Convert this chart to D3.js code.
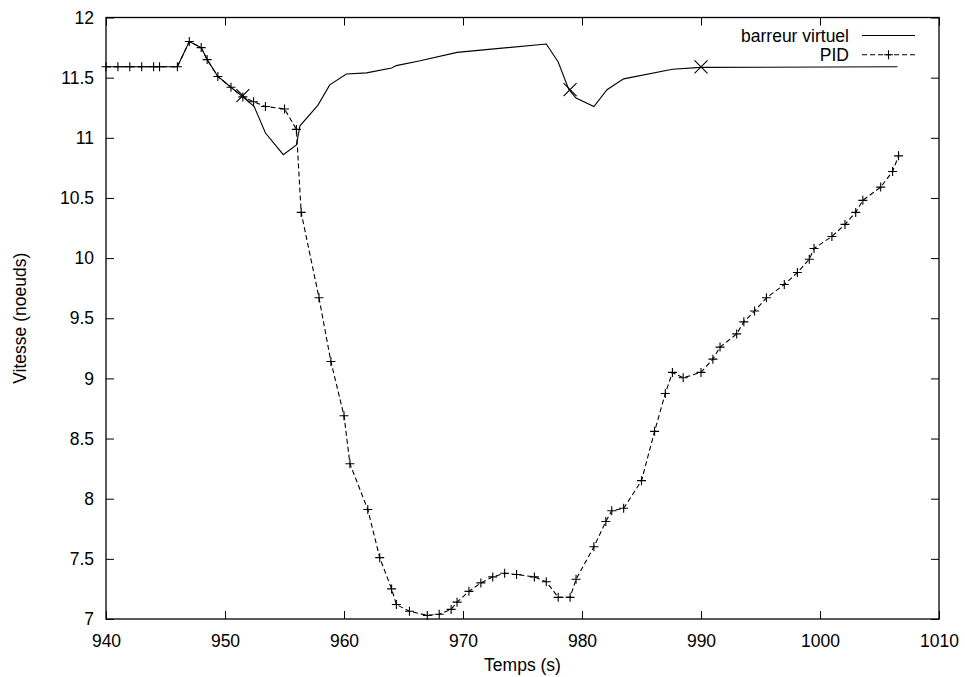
<!DOCTYPE html>
<meta charset="utf-8">
<script src="https://d3js.org/d3.v7.min.js"></script>
<style>
  body { margin: 0; background: #fff; }
  svg text { font-family: "Liberation Sans", Arial, sans-serif; font-size: 17.5px; fill: #000; }
</style>
<div id="my_dataviz"></div>
<script>
// barreur virtuel (solid line)
var bvTime = [940, 946, 947, 948, 948.5, 949.4, 950.5, 951.5, 952.45, 953.4, 954.9, 956.0, 956.3, 957.8, 958.8,
  960.2, 961.9, 964.0, 964.4, 966.4, 969.5, 977.0, 978.0, 978.9, 979.5, 981.0, 982.1, 983.5, 987.6, 990.0, 1006.5];
var bvSpeed = [11.59, 11.59, 11.80, 11.75, 11.65, 11.51, 11.42, 11.34, 11.26, 11.04, 10.86, 10.94, 11.10, 11.27, 11.44,
  11.53, 11.54, 11.58, 11.60, 11.64, 11.71, 11.78, 11.63, 11.40, 11.33, 11.26, 11.40, 11.49, 11.57, 11.585, 11.59];

// crosses on the solid line
var crossTime = [951.5, 979.0, 990.0];
var crossSpeed = [11.35, 11.40, 11.59];

// PID (dashed line with +)
var pidTime = [940, 941, 942, 943, 944, 944.5, 946,
  947, 948, 948.5, 949.4, 950.5, 951.5, 952.4, 953.4, 955.0, 956.0,
  956.4, 957.9, 958.9, 960.0, 960.5, 962.0, 963.0, 964.0, 964.4, 965.5,
  967, 968, 969, 969.5, 970.5, 971.5, 972.5, 973.5, 974.5, 976,
  977, 978, 979, 979.5, 981, 982, 982.5, 983.5, 985, 986.1,
  987, 987.6, 988.5, 990, 991, 991.6, 993, 993.6, 994.5, 995.5,
  997, 998.1, 999.1, 999.5, 1001, 1002.1, 1003, 1003.6, 1005.1, 1006.1, 1006.6];
var pidSpeed = [11.59, 11.59, 11.59, 11.59, 11.59, 11.59, 11.59,
  11.80, 11.75, 11.65, 11.51, 11.42, 11.34, 11.30, 11.26, 11.24, 11.07,
  10.38, 9.67, 9.14, 8.69, 8.29, 7.91, 7.51, 7.25, 7.12, 7.065,
  7.03, 7.04, 7.08, 7.14, 7.23, 7.30, 7.35, 7.38, 7.37, 7.35,
  7.31, 7.18, 7.18, 7.33, 7.60, 7.81, 7.90, 7.92, 8.15, 8.56,
  8.875, 9.05, 9.005, 9.05, 9.16, 9.26, 9.37, 9.47, 9.56, 9.67,
  9.78, 9.88, 9.99, 10.08, 10.18, 10.28, 10.38, 10.48, 10.59, 10.72, 10.85];

var xTicks = [940, 950, 960, 970, 980, 990, 1000, 1010];
var yTicks = [7, 7.5, 8, 8.5, 9, 9.5, 10, 10.5, 11, 11.5, 12];
var legendLabels = ["barreur virtuel", "PID"];

var margin = {top: 17.5, right: 26, bottom: 58, left: 106},
  width = 965 - margin.left - margin.right,
  height = 677 - margin.top - margin.bottom;

var svg = d3.select("#my_dataviz")
  .append("svg")
    .attr("width", 965)
    .attr("height", 677)
  .append("g")
    .attr("transform", "translate(" + margin.left + "," + margin.top + ")");

var x = d3.scaleLinear().domain([940, 1010]).range([0, width]);
var y = d3.scaleLinear().domain([7, 12]).range([height, 0]);

// axes, ticks pointing inward, mirrored like gnuplot
var tk = 8;
svg.append("g").attr("transform", "translate(0," + height + ")")
  .call(d3.axisBottom(x).tickValues(xTicks).tickSize(-tk).tickPadding(tk + 8).tickFormat(d3.format("d")));
svg.append("g")
  .call(d3.axisTop(x).tickValues(xTicks).tickSize(-tk).tickFormat(""));
svg.append("g")
  .call(d3.axisLeft(y).tickValues(yTicks).tickSize(-tk).tickPadding(tk + 4).tickFormat(function(d) { return d; }));
svg.append("g").attr("transform", "translate(" + width + ",0)")
  .call(d3.axisRight(y).tickValues(yTicks).tickSize(-tk).tickFormat(""));

svg.selectAll(".domain").remove();
svg.selectAll(".tick line").attr("stroke", "#000");
svg.selectAll(".tick text").style("font-size", "17.5px");

svg.append("rect")
  .attr("width", width).attr("height", height)
  .attr("fill", "none").attr("stroke", "#000").attr("stroke-width", 1.3);

// axis titles
svg.append("text")
  .attr("x", width / 2).attr("y", height + 52)
  .attr("text-anchor", "middle")
  .text("Temps (s)");
svg.append("text")
  .attr("transform", "translate(" + (-80) + "," + (height / 2) + ") rotate(-90)")
  .attr("text-anchor", "middle")
  .text("Vitesse (noeuds)");

var bvData = bvTime.map(function(t, i) { return [t, bvSpeed[i]]; });
var pidData = pidTime.map(function(t, i) { return [t, pidSpeed[i]]; });
var crossData = crossTime.map(function(t, i) { return [t, crossSpeed[i]]; });

var line = d3.line()
  .x(function(d) { return x(d[0]); })
  .y(function(d) { return y(d[1]); });

svg.append("path").datum(bvData)
  .attr("d", line).attr("fill", "none").attr("stroke", "#000").attr("stroke-width", 1.1);

svg.append("path").datum(pidData)
  .attr("d", line).attr("fill", "none").attr("stroke", "#000").attr("stroke-width", 1.1)
  .attr("stroke-dasharray", "5,3");

var plus = function(s) { return "M" + (-s) + ",0H" + s + "M0," + (-s) + "V" + s; };
var cross = function(s) { return "M" + (-s) + "," + (-s) + "L" + s + "," + s + "M" + (-s) + "," + s + "L" + s + "," + (-s); };

svg.selectAll(".pt").data(pidData).enter().append("path")
  .attr("class", "pt")
  .attr("transform", function(d) { return "translate(" + x(d[0]) + "," + y(d[1]) + ")"; })
  .attr("d", plus(4.5)).attr("stroke", "#000").attr("stroke-width", 1.1).attr("fill", "none");

svg.selectAll(".cx").data(crossData).enter().append("path")
  .attr("class", "cx")
  .attr("transform", function(d) { return "translate(" + x(d[0]) + "," + y(d[1]) + ")"; })
  .attr("d", cross(6.5)).attr("stroke", "#000").attr("stroke-width", 1.1).attr("fill", "none");

// legend
var lg = svg.append("g").attr("transform", "translate(" + (849 - margin.left) + ",0)");
legendLabels.forEach(function(lab, i) {
  var yy = 35.5 + i * 19.3 - margin.top;
  lg.append("text").attr("x", 0).attr("y", yy).attr("dy", "0.35em")
    .attr("text-anchor", "end").text(lab);
  var ln = lg.append("line").attr("x1", 13).attr("x2", 66).attr("y1", yy).attr("y2", yy)
    .attr("stroke", "#000").attr("stroke-width", 1.1);
  if (i === 1) {
    ln.attr("stroke-dasharray", "5,3");
    lg.append("path").attr("transform", "translate(39.5," + yy + ")")
      .attr("d", plus(4.5)).attr("stroke", "#000").attr("stroke-width", 1.1);
  }
});
</script>
